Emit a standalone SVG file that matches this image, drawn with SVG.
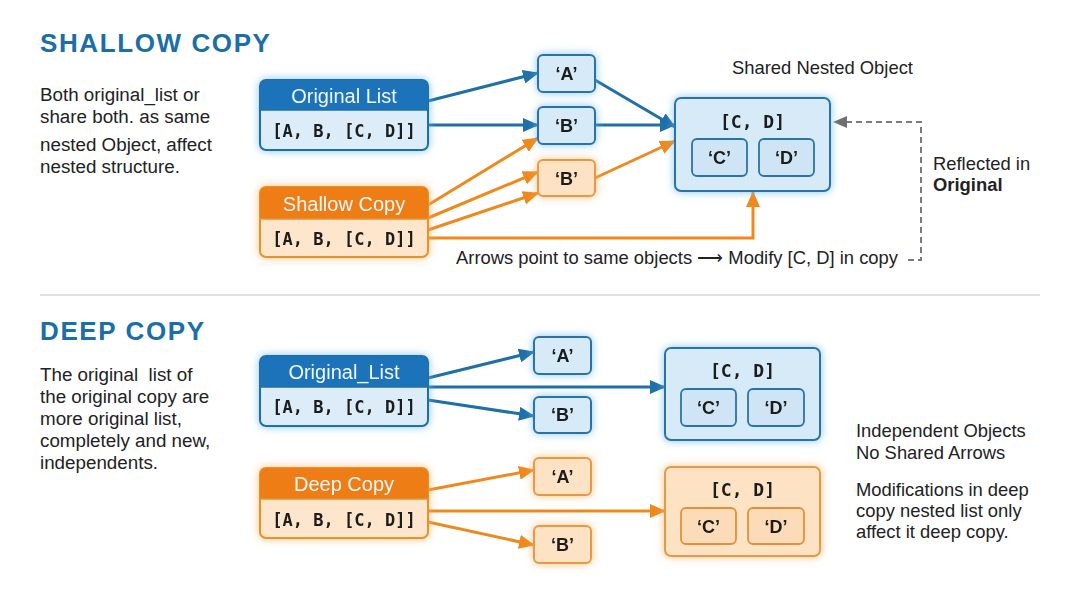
<svg xmlns="http://www.w3.org/2000/svg" width="1080" height="589" viewBox="0 0 1080 589">
<style>
.title{font-family:"Liberation Sans",Arial,sans-serif;font-weight:bold;font-size:26px;fill:#1b6ea8;letter-spacing:1.6px}
.body{font-family:"Liberation Sans",Arial,sans-serif;font-size:18.8px;fill:#222;white-space:pre}
.note{font-family:"Liberation Sans",Arial,sans-serif;font-size:18.4px;fill:#222}
.hdr{font-family:"Liberation Sans",Arial,sans-serif;font-size:20px;fill:#f2f7fc;text-anchor:middle}
.list{font-family:"DejaVu Sans Mono",monospace;font-weight:bold;font-size:17px;fill:#1a1a1a;text-anchor:middle}
.item{font-family:"Liberation Sans",Arial,sans-serif;font-weight:bold;font-size:18px;fill:#1a1a1a;text-anchor:middle}
.cd{font-family:"DejaVu Sans Mono",monospace;font-weight:bold;font-size:18px;fill:#1a1a1a;text-anchor:middle}
.bhead{fill:#1a73b9}
.bbody{fill:#dcedf9;stroke:#1f6fa9;stroke-width:2}
.ohead{fill:#ef7d14}
.obody{fill:#fde6cb;stroke:#e8922c;stroke-width:2}
.bbox{fill:#d6eaf8;stroke:#2a73a8;stroke-width:2}
.obox{fill:#fde3c4;stroke:#e59a45;stroke-width:2}
.bin{fill:#cfe5f6;stroke:#2a73a8;stroke-width:1.8}
.oin{fill:#fcdcb8;stroke:#e0913a;stroke-width:1.8}
.ab{stroke:#1f6fa9;stroke-width:3;fill:none;marker-end:url(#mb)}
.ao{stroke:#f0891c;stroke-width:3;fill:none;marker-end:url(#mo)}
.bglow{filter:url(#gb)}
.oglow{filter:url(#go)}
</style>
<defs>
<filter id="gb" x="-20%" y="-30%" width="140%" height="160%">
<feDropShadow dx="0" dy="0" stdDeviation="4" flood-color="#6cb8ee" flood-opacity="0.8"/>
</filter>
<filter id="go" x="-20%" y="-30%" width="140%" height="160%">
<feDropShadow dx="0" dy="0" stdDeviation="4" flood-color="#f7b060" flood-opacity="0.8"/>
</filter>
<marker id="mb" markerUnits="userSpaceOnUse" markerWidth="16" markerHeight="14" refX="15" refY="7" orient="auto">
<path d="M0,0 L16,7 L0,14 Z" fill="#1f6fa9"/>
</marker>
<marker id="mo" markerUnits="userSpaceOnUse" markerWidth="16" markerHeight="14" refX="15" refY="7" orient="auto">
<path d="M0,0 L16,7 L0,14 Z" fill="#f0891c"/>
</marker>
<marker id="mg" markerUnits="userSpaceOnUse" markerWidth="14" markerHeight="12" refX="13" refY="6" orient="auto">
<path d="M0,0 L14,6 L0,12 Z" fill="#707070"/>
</marker>
</defs>
<rect width="1080" height="589" fill="#ffffff"/>

<!-- Shallow section texts -->
<g id="shallow-text">
<text class="title" x="40" y="52">SHALLOW COPY</text>
<text class="body" x="40" y="101">Both original_list or</text>
<text class="body" x="40" y="123">share both. as same</text>
<text class="body" x="40" y="151">nested Object, affect</text>
<text class="body" x="40" y="173">nested structure.</text>
<text class="note" x="732" y="74">Shared Nested Object</text>
<text class="note" x="933" y="170">Reflected in</text>
<text class="note" x="933" y="191" font-weight="bold">Original</text>
<text class="note" x="456" y="264">Arrows point to same objects ⟶ Modify [C, D] in copy</text>
</g>

<line x1="40" y1="295" x2="1040" y2="295" stroke="#d8d8d8" stroke-width="1.5"/>

<!-- Deep section texts -->
<g id="deep-text">
<text class="title" x="40" y="340">DEEP COPY</text>
<text class="body" x="40" y="381">The original  list of</text>
<text class="body" x="40" y="403">the original copy are</text>
<text class="body" x="40" y="425">more original list,</text>
<text class="body" x="40" y="447">completely and new,</text>
<text class="body" x="40" y="469">independents.</text>
<text class="note" x="856" y="437">Independent Objects</text>
<text class="note" x="856" y="459">No Shared Arrows</text>
<text class="note" x="856" y="496">Modifications in deep</text>
<text class="note" x="856" y="517">copy nested list only</text>
<text class="note" x="856" y="538">affect it deep copy.</text>
</g>

<!-- Connectors -->
<g id="connectors">
<line class="ab" x1="428" y1="101" x2="538" y2="73"/>
<line class="ab" x1="428" y1="125" x2="538" y2="125"/>
<line class="ab" x1="595" y1="80" x2="675" y2="127"/>
<line class="ab" x1="595" y1="125" x2="675" y2="125"/>
<line class="ao" x1="428" y1="205" x2="538" y2="138"/>
<line class="ao" x1="428" y1="218" x2="538" y2="172"/>
<line class="ao" x1="428" y1="230" x2="538" y2="193"/>
<line class="ao" x1="595" y1="178" x2="675" y2="141"/>
<polyline class="ao" points="428,238 753,238 753,192"/>
<polyline points="908,260 921,260 921,122 834,122" fill="none" stroke="#7a7a7a" stroke-width="2" stroke-dasharray="6,4" marker-end="url(#mg)"/>

<line class="ab" x1="428" y1="378" x2="534" y2="352"/>
<line class="ab" x1="428" y1="387" x2="665" y2="387"/>
<line class="ab" x1="428" y1="400" x2="534" y2="416"/>
<line class="ao" x1="428" y1="490" x2="534" y2="470"/>
<line class="ao" x1="428" y1="511" x2="665" y2="511"/>
<line class="ao" x1="428" y1="522" x2="534" y2="545"/>
</g>

<!-- Shallow nodes -->
<g id="shallow-original" class="bglow">
<rect class="bbody" x="260" y="80" width="168" height="70" rx="6"/>
<path class="bhead" d="M266,80 H422 A6,6 0 0 1 428,86 V110 H260 V86 A6,6 0 0 1 266,80 Z"/>
<line x1="260" y1="110" x2="428" y2="110" stroke="#1f6fa9" stroke-width="1.5"/>
<text class="hdr" x="344" y="103">Original List</text>
<text class="list" x="344" y="137">[A, B, [C, D]]</text>
</g>
<g id="shallow-copy" class="oglow">
<rect class="obody" x="260" y="187" width="168" height="70" rx="6"/>
<path class="ohead" d="M266,187 H422 A6,6 0 0 1 428,193 V219 H260 V193 A6,6 0 0 1 266,187 Z"/>
<line x1="260" y1="219" x2="428" y2="219" stroke="#e8922c" stroke-width="1.5"/>
<text class="hdr" x="344" y="211">Shallow Copy</text>
<text class="list" x="344" y="245">[A, B, [C, D]]</text>
</g>
<g id="s-a" class="bglow">
<rect class="bbox" x="538" y="55" width="57" height="37" rx="5"/>
<text class="item" x="566.5" y="80">‘A’</text>
</g>
<g id="s-b" class="bglow">
<rect class="bbox" x="538" y="107" width="57" height="37" rx="5"/>
<text class="item" x="566.5" y="132">‘B’</text>
</g>
<g id="s-b2" class="oglow">
<rect class="obox" x="538" y="160" width="57" height="36" rx="5"/>
<text class="item" x="566.5" y="185">‘B’</text>
</g>
<g id="s-nested" class="bglow">
<rect class="bbox" x="675" y="98" width="155" height="93" rx="6"/>
<text class="cd" x="752.5" y="128">[C, D]</text>
<rect class="bin" x="692" y="139" width="55" height="37" rx="5"/>
<text class="item" x="719.5" y="164">‘C’</text>
<rect class="bin" x="759" y="139" width="55" height="37" rx="5"/>
<text class="item" x="786.5" y="164">‘D’</text>
</g>

<!-- Deep nodes -->
<g id="deep-original" class="bglow">
<rect class="bbody" x="260" y="356" width="168" height="70" rx="6"/>
<path class="bhead" d="M266,356 H422 A6,6 0 0 1 428,362 V387 H260 V362 A6,6 0 0 1 266,356 Z"/>
<line x1="260" y1="387" x2="428" y2="387" stroke="#1f6fa9" stroke-width="1.5"/>
<text class="hdr" x="344" y="379">Original_List</text>
<text class="list" x="344" y="413">[A, B, [C, D]]</text>
</g>
<g id="deep-copy" class="oglow">
<rect class="obody" x="260" y="468" width="168" height="70" rx="6"/>
<path class="ohead" d="M266,468 H422 A6,6 0 0 1 428,474 V499 H260 V474 A6,6 0 0 1 266,468 Z"/>
<line x1="260" y1="499" x2="428" y2="499" stroke="#e8922c" stroke-width="1.5"/>
<text class="hdr" x="344" y="491">Deep Copy</text>
<text class="list" x="344" y="526">[A, B, [C, D]]</text>
</g>
<g id="d-a" class="bglow">
<rect class="bbox" x="534" y="337" width="57" height="37" rx="5"/>
<text class="item" x="562.5" y="362">‘A’</text>
</g>
<g id="d-b" class="bglow">
<rect class="bbox" x="534" y="397" width="57" height="36" rx="5"/>
<text class="item" x="562.5" y="421">‘B’</text>
</g>
<g id="d-a2" class="oglow">
<rect class="obox" x="534" y="458" width="57" height="37" rx="5"/>
<text class="item" x="562.5" y="483">‘A’</text>
</g>
<g id="d-b2" class="oglow">
<rect class="obox" x="534" y="526" width="57" height="37" rx="5"/>
<text class="item" x="562.5" y="551">‘B’</text>
</g>
<g id="d-nested-blue" class="bglow">
<rect class="bbox" x="665" y="348" width="155" height="92" rx="6"/>
<text class="cd" x="742.5" y="377">[C, D]</text>
<rect class="bin" x="681" y="389" width="55" height="37" rx="5"/>
<text class="item" x="708.5" y="414">‘C’</text>
<rect class="bin" x="748" y="389" width="56" height="37" rx="5"/>
<text class="item" x="776" y="414">‘D’</text>
</g>
<g id="d-nested-orange" class="oglow">
<rect class="obox" x="665" y="467" width="155" height="89" rx="6"/>
<text class="cd" x="742.5" y="496">[C, D]</text>
<rect class="oin" x="681" y="508" width="55" height="36" rx="5"/>
<text class="item" x="708.5" y="533">‘C’</text>
<rect class="oin" x="748" y="508" width="56" height="36" rx="5"/>
<text class="item" x="776" y="533">‘D’</text>
</g>
</svg>
